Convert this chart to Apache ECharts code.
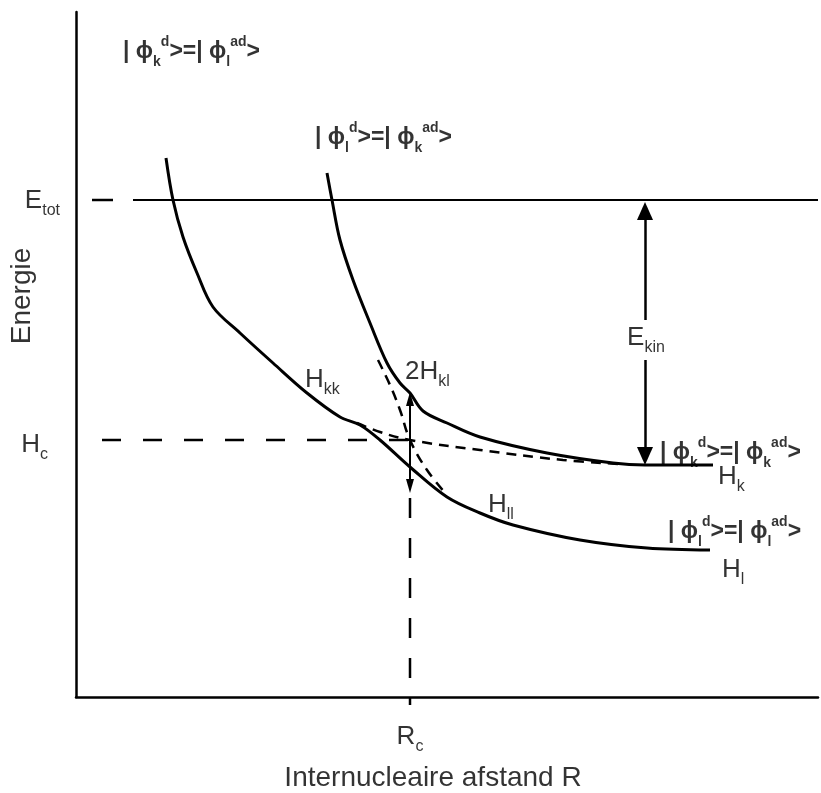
<!DOCTYPE html>
<html>
<head>
<meta charset="utf-8">
<script src="https://cdn.jsdelivr.net/npm/echarts@6/dist/echarts.min.js"></script>
<style>
html, body { margin: 0; padding: 0; background: #fff; }
#main { width: 821px; height: 793px; }
</style>
</head>
<body>
<div id="main"></div>
<script>
// schematic units: x = internuclear distance R, y = energy (both arbitrary)
var Rc = 334, Hc = 257, Etot = 497;

// adiabatic curves (solid)
var adiabaticLower = [[90,539],[97,497],[107,460],[121,424],[137,390],[164,364],[197,334],[231,304],[264,280],[284,272],[304,257],[334,230],[371,200],[404,184],[437,172],[504,157],[571,149],[634,147]];
var adiabaticUpper = [[251,524],[256,497],[264,457],[277,417],[294,374],[311,334],[324,314],[334,304],[347,286],[371,274],[404,260],[471,244],[537,234],[569,232],[637,232]];

// diabatic curves (dashed)
var diabaticKK = [[281,274],[304,265],[334,257],[404,247],[487,237],[544,233]];
var diabaticLL = [[302,337],[314,312],[324,287],[334,257],[351,227],[371,202]];

// reference lines
var etotDash = [[16,Etot],[57,Etot]];
var etotSolid = [[57,Etot],[742,Etot]];
var hcLine = [[26,Hc],[Rc,Hc]];
var rcLine = [[Rc,199],[Rc,-8]];

// arrows: [from, to]
var couplingArrow = [[Rc,298],[Rc,211]];
var ekinUp = [[569,377],[569,486]];
var ekinDown = [[569,337],[569,241]];

// annotations: [x, y, text, align, rotate]
var annotations = [
    [47, 645, '{b|| ϕ}{bs|k}{bp|d}{b|>=| ϕ}{bs|l}{bp|ad}{b|>}', 'left', 0],
    [239, 559, '{b|| ϕ}{bs|l}{bp|d}{b|>=| ϕ}{bs|k}{bp|ad}{b|>}', 'left', 0],
    [584, 244, '{b|| ϕ}{bs|k}{bp|d}{b|>=| ϕ}{bs|k}{bp|ad}{b|>}', 'left', 0],
    [592, 165, '{b|| ϕ}{bs|l}{bp|d}{b|>=| ϕ}{bs|l}{bp|ad}{b|>}', 'left', 0],
    [642, 220, '{m|H}{s|k}', 'left', 0],
    [646, 127, '{m|H}{s|l}', 'left', 0],
    [229, 317, '{m|H}{s|kk}', 'left', 0],
    [329, 325, '{m|2H}{s|kl}', 'left', 0],
    [412, 192, '{m|H}{s|ll}', 'left', 0],
    [570, 359, '{m|E}{s|kin}', 'center', 0],
    [334, -40, '{m|R}{s|c}', 'center', 0],
    [357, -81, '{t|Internucleaire afstand R}', 'center', 0],
    [-16, 496, '{m|E}{s|tot}', 'right', 0],
    [-28, 252, '{m|H}{s|c}', 'right', 0],
    [-54, 401, '{t|Energie}', 'center', 90]
];

var FONT = 'Liberation Sans';
var rich = {
    m: { fontFamily: FONT, fontSize: 26, lineHeight: 36, color: '#000' },
    t: { fontFamily: FONT, fontSize: 28, lineHeight: 36, color: '#000' },
    s: { fontFamily: FONT, fontSize: 16, lineHeight: 14, verticalAlign: 'bottom', color: '#000' },
    b: { fontFamily: FONT, fontSize: 23, fontWeight: 'bold', lineHeight: 34, color: '#000' },
    bs: { fontFamily: FONT, fontSize: 14, fontWeight: 'bold', lineHeight: 14, verticalAlign: 'bottom', color: '#000' },
    bp: { fontFamily: FONT, fontSize: 14, fontWeight: 'bold', lineHeight: 14, verticalAlign: 'top', color: '#000' }
};

var myChart = echarts.init(document.getElementById('main'));

function lineSeries(data, width, dash, smooth) {
    return {
        type: 'line',
        data: data,
        smooth: smooth || false,
        symbol: 'none',
        clip: false,
        silent: true,
        lineStyle: { color: '#000', width: width, type: dash || 'solid' },
        z: 3
    };
}

var series = [
    lineSeries(adiabaticLower, 3, 'solid', 0.35),
    lineSeries(adiabaticUpper, 3, 'solid', 0.35),
    lineSeries(diabaticKK, 2.5, [10, 7], 0.4),
    lineSeries(diabaticLL, 2.5, [10, 7], 0.4),
    lineSeries(etotDash, 2.5, [21, 20]),
    lineSeries(hcLine, 2.5, [19, 22]),
    lineSeries(rcLine, 2.5, [20, 20]),
    lineSeries(etotSolid, 2, 'solid')
];

// arrows
series.push({
    type: 'line', data: [], silent: true,
    markLine: {
        silent: true, animation: false,
        label: { show: false },
        symbol: ['triangle', 'triangle'],
        symbolSize: [8, 14],
        lineStyle: { color: '#000', width: 2, type: 'solid' },
        data: [[{ coord: couplingArrow[0] }, { coord: couplingArrow[1] }]]
    }
});
series.push({
    type: 'line', data: [], silent: true,
    markLine: {
        silent: true, animation: false,
        label: { show: false },
        symbol: ['none', 'triangle'],
        symbolSize: [16, 18],
        lineStyle: { color: '#000', width: 2.5, type: 'solid' },
        data: [
            [{ coord: ekinUp[0] }, { coord: ekinUp[1] }],
            [{ coord: ekinDown[0] }, { coord: ekinDown[1] }]
        ]
    }
});

// text annotations
series.push({
    type: 'scatter',
    symbolSize: 0,
    clip: false,
    silent: true,
    z: 5,
    data: annotations.map(function(a) {
        return {
            value: [a[0], a[1]],
            label: {
                show: true,
                position: 'inside',
                color: '#000',
                formatter: a[2],
                align: a[3],
                verticalAlign: 'middle',
                rotate: a[4],
                rich: rich
            }
        };
    })
});

var option = {
    animation: false,
    backgroundColor: '#fff',
    grid: { left: 76, right: 3, top: 12, bottom: 96 },
    xAxis: {
        type: 'value', min: 0, max: 742,
        axisLine: { show: true, lineStyle: { color: '#000', width: 2.5 } },
        axisTick: { show: false }, axisLabel: { show: false }, splitLine: { show: false }
    },
    yAxis: {
        type: 'value', min: 0, max: 685,
        axisLine: { show: true, lineStyle: { color: '#000', width: 2.5 } },
        axisTick: { show: false }, axisLabel: { show: false }, splitLine: { show: false }
    },
    series: series
};

myChart.setOption(option);
</script>
</body>
</html>
